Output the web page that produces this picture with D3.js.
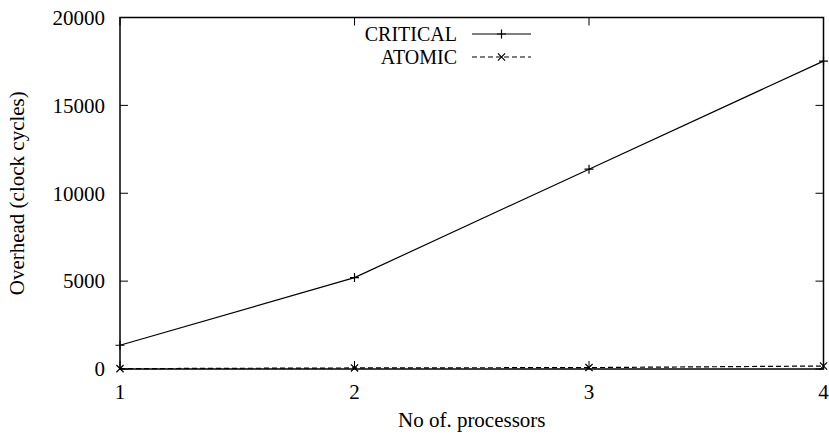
<!DOCTYPE html>
<html>
<head>
  <meta charset="utf-8">
<style>
  body { margin: 0; background: #fff; }
  svg { display: block; }
  text { font-family: "Liberation Serif", "Times New Roman", serif; font-size: 21px; fill: #000; }
  text.legend { font-size: 20px; }
</style>
<script src="https://d3js.org/d3.v7.min.js"></script>
</head>
<body>
<svg width="829" height="441"></svg>
<script>
  // values
  var processors = [1, 2, 3, 4];
  var critical = [1350, 5200, 11370, 17520];
  var atomic = [20, 60, 80, 170];
  var yTicks = [0, 5000, 10000, 15000, 20000];

  var svg = d3.select("svg"),
      margin = {top: 17.5, right: 5.5, bottom: 72, left: 120},
      width = +svg.attr("width") - margin.left - margin.right,
      height = +svg.attr("height") - margin.top - margin.bottom,
      g = svg.append("g").attr("transform", "translate(" + margin.left + "," + margin.top + ")");

  var x = d3.scaleLinear().domain([1, 4]).range([0, width]);
  var y = d3.scaleLinear().domain([0, 20000]).range([height, 0]);

  // ticks drawn inward, mirrored on the opposite border
  var tickLen = 8;
  g.selectAll(".ytick").data(yTicks).enter().append("g").each(function(d) {
    var t = d3.select(this);
    t.append("line").attr("x1", 0).attr("x2", tickLen).attr("y1", y(d)).attr("y2", y(d)).attr("stroke", "#000");
    t.append("line").attr("x1", width).attr("x2", width - tickLen).attr("y1", y(d)).attr("y2", y(d)).attr("stroke", "#000");
    t.append("text").attr("x", -15).attr("y", y(d)).attr("dy", "0.35em").attr("text-anchor", "end").text(d);
  });
  g.selectAll(".xtick").data(processors).enter().append("g").each(function(d) {
    var t = d3.select(this);
    t.append("line").attr("x1", x(d)).attr("x2", x(d)).attr("y1", height).attr("y2", height - tickLen).attr("stroke", "#000");
    t.append("line").attr("x1", x(d)).attr("x2", x(d)).attr("y1", 0).attr("y2", tickLen).attr("stroke", "#000");
    t.append("text").attr("x", x(d)).attr("y", height + 30).attr("text-anchor", "middle").text(d);
  });

  var line = d3.line()
      .x(function(d, i) { return x(processors[i]); })
      .y(function(d) { return y(d); });

  g.append("path").datum(critical)
      .attr("fill", "none").attr("stroke", "#000").attr("stroke-width", 1.2)
      .attr("d", line);
  g.append("path").datum(atomic)
      .attr("fill", "none").attr("stroke", "#000").attr("stroke-width", 1.2)
      .attr("stroke-dasharray", "5,3")
      .attr("d", line);

  var s = 4.5;
  function plus(sel, cx, cy) {
    sel.append("path").attr("d", "M" + (cx - s) + "," + cy + "H" + (cx + s) + "M" + cx + "," + (cy - s) + "V" + (cy + s))
      .attr("stroke", "#000").attr("stroke-width", 1.2);
  }
  function cross(sel, cx, cy) {
    var k = s * 0.8;
    sel.append("path").attr("d", "M" + (cx - k) + "," + (cy - k) + "L" + (cx + k) + "," + (cy + k) + "M" + (cx - k) + "," + (cy + k) + "L" + (cx + k) + "," + (cy - k))
      .attr("stroke", "#000").attr("stroke-width", 1.2);
  }
  critical.forEach(function(d, i) { plus(g, x(processors[i]), y(d)); });
  atomic.forEach(function(d, i) { cross(g, x(processors[i]), y(d)); });

  // border
  g.append("rect").attr("width", width).attr("height", height)
      .attr("fill", "none").attr("stroke", "#000").attr("stroke-width", 1.5);

  // legend
  var legend = [{name: "CRITICAL", dash: null, mark: plus}, {name: "ATOMIC", dash: "5,3", mark: cross}];
  legend.forEach(function(l, i) {
    var ly = 34 + i * 23;
    svg.append("text").attr("class", "legend").attr("x", 457).attr("y", ly).attr("dy", "0.35em").attr("text-anchor", "end").text(l.name);
    svg.append("line").attr("x1", 472).attr("x2", 531).attr("y1", ly).attr("y2", ly)
      .attr("stroke", "#000").attr("stroke-width", 1.2).attr("stroke-dasharray", l.dash);
    l.mark(svg, 501.5, ly);
  });

  // axis titles
  svg.append("text").attr("x", margin.left + width / 2).attr("y", 427).attr("text-anchor", "middle").text("No of. processors");
  svg.append("text")
      .attr("transform", "translate(24," + (margin.top + height / 2) + ") rotate(-90)")
      .attr("text-anchor", "middle").text("Overhead (clock cycles)");
</script>
</body>
</html>
